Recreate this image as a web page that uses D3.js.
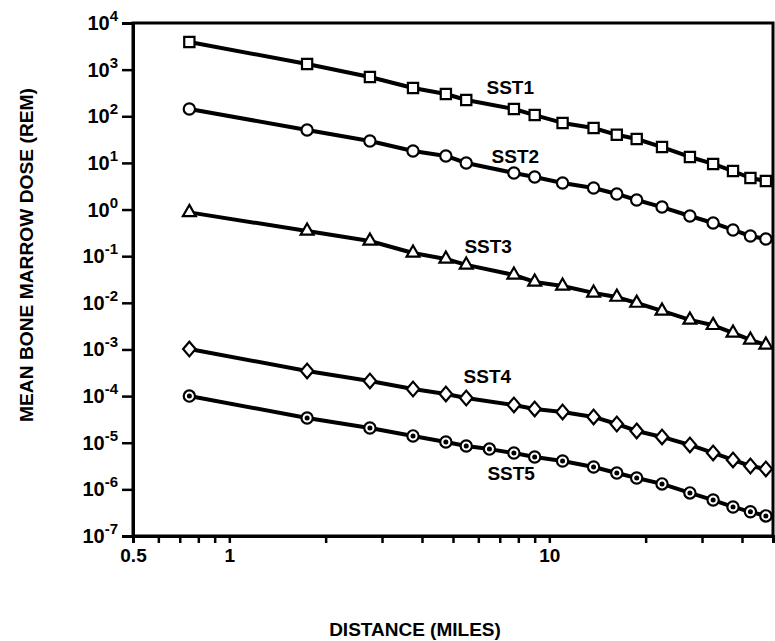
<!DOCTYPE html>
<html>
<head>
<meta charset="utf-8">
<script src="https://cdn.jsdelivr.net/npm/d3@7"></script>
<style>
  body { margin: 0; background: #fff; }
  text { font-family: "Liberation Sans", Arial, sans-serif; font-weight: bold; fill: #000; }
</style>
</head>
<body>
<script>
/*
Dose vs distance, one line per source term
*/
var distance = [0.75, 1.75, 2.75, 3.75, 4.75, 5.5, 7.75, 9, 11, 13.75, 16.25, 18.75, 22.5, 27.5, 32.5, 37.5, 42.5, 47.5];
var distanceSST5 = [0.75, 1.75, 2.75, 3.75, 4.75, 5.5, 6.5, 7.75, 9, 11, 13.75, 16.25, 18.75, 22.5, 27.5, 32.5, 37.5, 42.5, 47.5];

var sst1 = [3920, 1320, 695, 404, 300, 223, 143, 106, 72, 56, 40, 32.6, 21.9, 13.4, 9.5, 6.7, 4.75, 4.1];
var sst2 = [143, 50.8, 29.5, 18, 14.1, 9.96, 6.08, 4.99, 3.71, 2.9, 2.16, 1.6, 1.13, 0.727, 0.515, 0.365, 0.271, 0.234];
var sst3 = [0.87, 0.347, 0.212, 0.117, 0.087, 0.065, 0.0395, 0.028, 0.023, 0.0163, 0.0133, 0.0099, 0.0067, 0.0043, 0.0033, 0.00226, 0.0016, 0.00125];
var sst4 = [1.02e-3, 3.46e-4, 2.11e-4, 1.42e-4, 1.11e-4, 9.1e-5, 6.45e-5, 5.3e-5, 4.57e-5, 3.57e-5, 2.52e-5, 1.79e-5, 1.33e-5, 8.95e-6, 6.03e-6, 4.27e-6, 3.17e-6, 2.74e-6];
var sst5 = [1.0e-4, 3.4e-5, 2.07e-5, 1.4e-5, 1.04e-5, 8.5e-6, 7.3e-6, 6.0e-6, 4.95e-6, 4.06e-6, 3.02e-6, 2.25e-6, 1.75e-6, 1.31e-6, 8.4e-7, 5.9e-7, 4.2e-7, 3.3e-7, 2.7e-7];

var seriesNames = ["SST1", "SST2", "SST3", "SST4", "SST5"];
// label anchor (distance, dose) for each series name
var labelAt = [[7.55, 300], [7.83, 9.96], [6.44, 0.117], [6.4, 1.91e-4], [7.6, 1.59e-6]];

var xTicks = [0.5, 0.6, 0.7, 0.8, 0.9, 1, 2, 3, 4, 5, 6, 7, 8, 9, 10, 20, 30, 40];
var xLabels = [0.5, 1, 10];
var yExponents = [4, 3, 2, 1, 0, -1, -2, -3, -4, -5, -6, -7];

var width = 775,
    height = 641;

var svg = d3.select("body").append("svg")
    .attr("width", width)
    .attr("height", height)
    .style("display", "block");

var x = d3.scaleLog().domain([0.5, 50]).range([133, 773]);
var y = d3.scaleLog().domain([1e-7, 1e4]).range([536, 23]);

// wider diamond than d3's own
var wideDiamond = {
    draw: function(context, size) {
        var h = Math.sqrt(size / 1.7), w = h * 0.85;
        context.moveTo(0, -h);
        context.lineTo(w, 0);
        context.lineTo(0, h);
        context.lineTo(-w, 0);
        context.closePath();
    }
};

// frame
svg.append("rect")
    .attr("x", x(0.5))
    .attr("y", y(1e4))
    .attr("width", x(50) - x(0.5))
    .attr("height", y(1e-7) - y(1e4))
    .attr("fill", "none")
    .attr("stroke", "#000")
    .attr("stroke-width", 3);

// x axis
var xAxis = svg.append("g")
    .attr("transform", "translate(0," + y(1e-7) + ")")
    .call(d3.axisBottom(x)
        .tickValues(xTicks)
        .tickSize(7)
        .tickPadding(6)
        .tickFormat(function(d) { return xLabels.indexOf(d) >= 0 ? String(d) : ""; }));
xAxis.select(".domain").attr("stroke-width", 3);
xAxis.selectAll(".tick line").attr("stroke-width", 2.5);
xAxis.selectAll(".tick text")
    .style("font-size", "19px")
    .style("font-family", "'Liberation Sans', Arial, sans-serif")
    .style("font-weight", "bold")
    .attr("fill", "#000");

// y axis
var yAxis = svg.append("g")
    .attr("transform", "translate(" + x(0.5) + ",0)")
    .call(d3.axisLeft(y)
        .tickValues(yExponents.map(function(e) { return Math.pow(10, e); }))
        .tickSize(11)
        .tickFormat(""));
yAxis.select(".domain").attr("stroke-width", 3);
yAxis.selectAll(".tick line").attr("stroke-width", 2.5);

var yLab = svg.append("g").selectAll("text")
    .data(yExponents)
    .enter().append("text")
    .attr("x", 118)
    .attr("y", function(e) { return y(Math.pow(10, e)) + 7; })
    .attr("text-anchor", "end")
    .style("font-size", "20px");
yLab.append("tspan").text("10");
yLab.append("tspan")
    .attr("dy", -9)
    .style("font-size", "15px")
    .text(function(e) { return e < 0 ? "-" + (-e) : String(e); });

// axis titles
svg.append("text")
    .attr("x", 415)
    .attr("y", 636)
    .attr("text-anchor", "middle")
    .style("font-size", "19px")
    .text("DISTANCE (MILES)");

svg.append("text")
    .attr("transform", "translate(33,255) rotate(-90)")
    .attr("text-anchor", "middle")
    .style("font-size", "19px")
    .attr("textLength", 334)
    .attr("lengthAdjust", "spacingAndGlyphs")
    .text("MEAN BONE MARROW DOSE (REM)");

// series
var series = [
    { xs: distance, ys: sst1, shape: d3.symbolSquare, size: 105 },
    { xs: distance, ys: sst2, shape: d3.symbolCircle, size: 100 },
    { xs: distance, ys: sst3, shape: d3.symbolTriangle, size: 72 },
    { xs: distance, ys: sst4, shape: wideDiamond, size: 92 },
    { xs: distanceSST5, ys: sst5, shape: d3.symbolCircle, size: 100 }
];

var line = d3.line()
    .x(function(d) { return x(d[0]); })
    .y(function(d) { return y(d[1]); });

series.forEach(function(s, i) {
    var pts = s.xs.map(function(d, j) { return [d, s.ys[j]]; });

    svg.append("path")
        .datum(pts)
        .attr("fill", "none")
        .attr("stroke", "#000")
        .attr("stroke-width", 4)
        .attr("stroke-linejoin", "round")
        .attr("d", line);

    var g = svg.append("g").selectAll("g")
        .data(pts)
        .enter().append("g")
        .attr("transform", function(d) { return "translate(" + x(d[0]) + "," + y(d[1]) + ")"; });

    g.append("path")
        .attr("d", d3.symbol().type(s.shape).size(s.size))
        .attr("fill", "#fff")
        .attr("stroke", "#000")
        .attr("stroke-width", 2.2);

    if (i == 4) {
        g.append("circle")
            .attr("r", 2.5)
            .attr("fill", "#000");
    }

    svg.append("text")
        .attr("x", x(labelAt[i][0]))
        .attr("y", y(labelAt[i][1]))
        .attr("text-anchor", "middle")
        .style("font-size", "19px")
        .text(seriesNames[i]);
});
</script>
</body>
</html>
